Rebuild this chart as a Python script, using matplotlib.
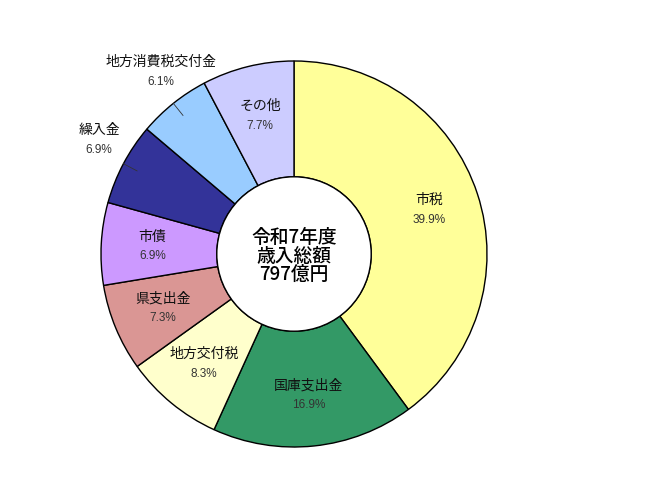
import numpy as np
import matplotlib.pyplot as plt

plt.rcParams['font.family'] = ['Noto Sans CJK JP', 'DejaVu Sans']

categories = ['市税', '国庫支出金', '地方交付税', '県支出金', '市債', '繰入金', '地方消費税交付金', 'その他']
shares = [39.9, 16.9, 8.3, 7.3, 6.9, 6.9, 6.1, 7.7]
colors = ['#FFFF99', '#339966', '#FFFFCC', '#DA9694', '#CC99FF', '#333399', '#99CCFF', '#CCCCFF']
outside = ['繰入金', '地方消費税交付金']
center_text = '令和7年度\n歳入総額\n797億円'

cx, cy, R = 294, 241, 193

fig = plt.figure(figsize=(6.6, 4.95), dpi=100)
ax = fig.add_axes([0, 0, 1, 1])

wedges, _ = ax.pie(shares, colors=colors, startangle=90, counterclock=False,
                   center=(cx, cy), radius=R,
                   wedgeprops=dict(width=R * 0.6, edgecolor='black', linewidth=1))
ax.set_xlim(0, 660)
ax.set_ylim(0, 495)
ax.set_aspect('equal')
ax.axis('off')

# hole outline
ax.add_patch(plt.Circle((cx, cy), R * 0.4, facecolor='white', edgecolor='black', lw=1, zorder=3))

for w, name, v in zip(wedges, categories, shares):
    mid = (w.theta1 + w.theta2) / 2
    if name in outside:
        a = np.deg2rad(mid)
        ax.plot([cx + np.cos(a) * R, cx + np.cos(a) * R * 0.92],
                [cy + np.sin(a) * R, cy + np.sin(a) * R * 0.92],
                color='#333333', lw=0.6, zorder=4)
        r = R * 1.17
        a = np.deg2rad(mid - 2.5)
    else:
        r = R * 0.735
        a = np.deg2rad(mid)
    x, y = cx + np.cos(a) * r, cy + np.sin(a) * r
    ax.text(x, y + 10, name, ha='center', va='center', fontsize=10, color='#111111', zorder=5)
    ax.text(x, y - 10, f'{v:.1f}%', ha='center', va='center', fontsize=8.5,
            family=['Liberation Sans', 'DejaVu Sans'], color='#333333', zorder=5)

ax.text(cx, cy - 2, center_text, ha='center', va='center', fontsize=13.5,
        fontweight='medium', linespacing=0.95, zorder=5)

fig.savefig('out.png', dpi=100)
